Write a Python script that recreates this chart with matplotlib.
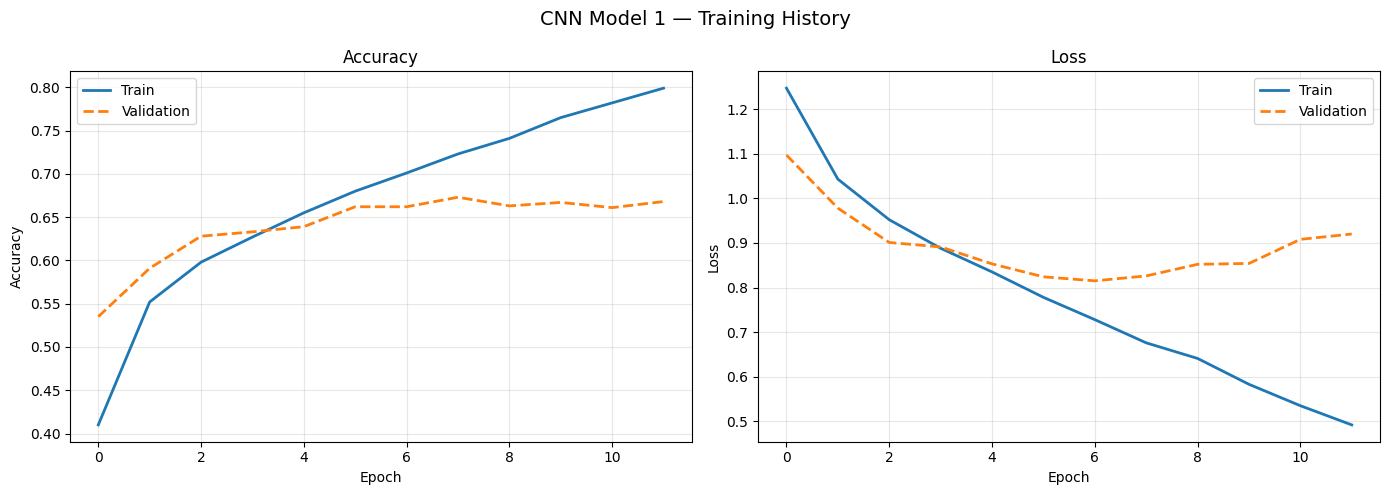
import matplotlib
matplotlib.use("Agg")
import matplotlib.pyplot as plt

epochs = list(range(12))
train_acc = [0.410, 0.552, 0.598, 0.627, 0.655, 0.680, 0.701, 0.723, 0.741, 0.765, 0.782, 0.799]
val_acc = [0.535, 0.591, 0.628, 0.633, 0.639, 0.662, 0.662, 0.673, 0.663, 0.667, 0.661, 0.668]
train_loss = [1.247, 1.043, 0.952, 0.888, 0.835, 0.778, 0.728, 0.676, 0.641, 0.583, 0.535, 0.492]
val_loss = [1.097, 0.978, 0.901, 0.891, 0.853, 0.824, 0.815, 0.826, 0.852, 0.854, 0.908, 0.920]

fig, axes = plt.subplots(1, 2, figsize=(14, 5), dpi=100)

ax = axes[0]
ax.plot(epochs, train_acc, label="Train", linewidth=2)
ax.plot(epochs, val_acc, label="Validation", linewidth=2, linestyle="--")
ax.set_title("Accuracy")
ax.set_xlabel("Epoch")
ax.set_ylabel("Accuracy")
ax.legend()
ax.grid(True, alpha=0.3)

ax = axes[1]
ax.plot(epochs, train_loss, label="Train", linewidth=2)
ax.plot(epochs, val_loss, label="Validation", linewidth=2, linestyle="--")
ax.set_title("Loss")
ax.set_xlabel("Epoch")
ax.set_ylabel("Loss")
ax.legend()
ax.grid(True, alpha=0.3)

fig.suptitle("CNN Model 1 — Training History", fontsize=14)
fig.tight_layout()
fig.savefig("out.png", dpi=100, bbox_inches="tight")
